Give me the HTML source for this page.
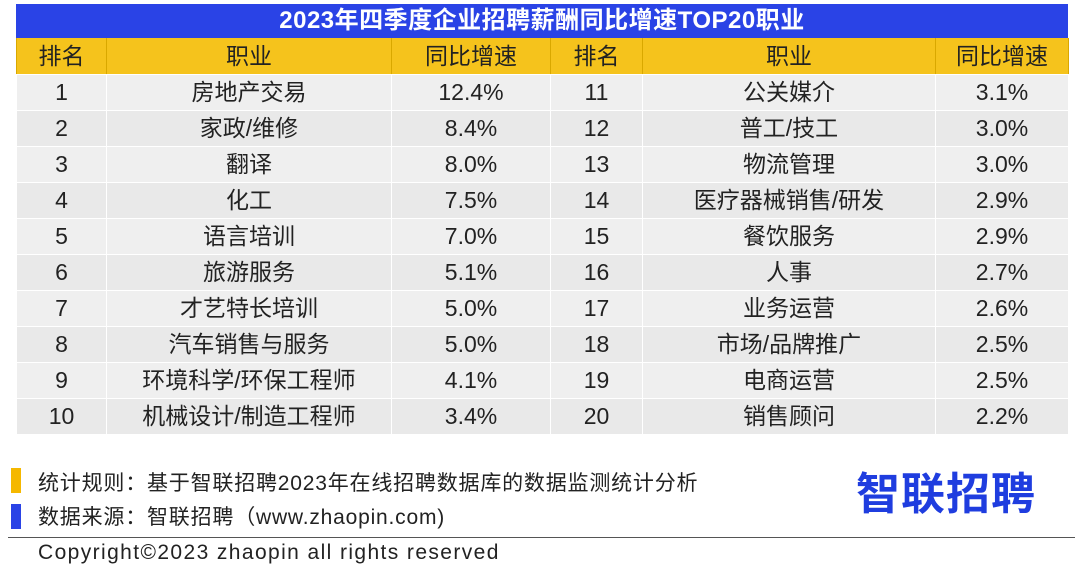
<!DOCTYPE html>
<html><head><meta charset="utf-8">
<style>
body{margin:0;width:1080px;height:579px;background:#fff;position:relative;overflow:hidden;font-family:"Liberation Sans","Noto Sans CJK SC",sans-serif;color:#222}
#title{position:absolute;left:16px;top:4px;width:1052px;height:34px;background:#2a43e6;color:#fff;font-weight:bold;font-size:24px;line-height:34px;text-align:center;letter-spacing:0.5px}
table{position:absolute;left:16px;top:38px;width:1052px;border-collapse:collapse;table-layout:fixed}
td,th{text-align:center;font-size:23px;font-weight:normal;padding:0;height:35px;line-height:35px;border:1px solid #fff;border-top:0;border-bottom:1px solid #fff}
th{background:#f5c31c;height:36px;border-left:1px solid #d9a800;border-right:1px solid #d9a800}
tr.r td{background:#efefef}
tr.r:nth-child(even) td{background:#e9e9e9}
.sq{position:absolute;width:10px;height:25px;left:11px}
.ft{position:absolute;left:38px;font-size:21px;line-height:26px;white-space:nowrap}
</style></head><body>
<div id="title">2023年四季度企业招聘薪酬同比增速TOP20职业</div>
<table>
<colgroup><col style="width:90px"><col style="width:285px"><col style="width:159px"><col style="width:92px"><col style="width:293px"><col style="width:133px"></colgroup>
<thead><tr><th>排名</th><th>职业</th><th>同比增速</th><th>排名</th><th>职业</th><th>同比增速</th></tr></thead>
<tbody id="tb"></tbody>
</table>
<div class="sq" style="top:468px;background:#f5b800"></div>
<div class="ft" style="top:471px;letter-spacing:0.8px">统计规则：基于智联招聘2023年在线招聘数据库的数据监测统计分析</div>
<div class="sq" style="top:504px;background:#2a43e6"></div>
<div class="ft" style="top:505px;letter-spacing:0.8px">数据来源：智联招聘（www.zhaopin.com)</div>
<div style="position:absolute;left:8px;top:537px;width:1067px;height:1px;background:#555"></div>
<div class="ft" style="top:540px;left:38px;letter-spacing:1.4px">Copyright©2023 zhaopin all rights reserved</div>
<div style="position:absolute;left:856px;top:462px;font-size:44px;font-weight:bold;color:#1f3ddf;line-height:56px;letter-spacing:1px;font-family:'Noto Sans CJK SC',sans-serif">智联招聘</div>
<script>
const ranks1=[1,2,3,4,5,6,7,8,9,10];
const jobs1=["房地产交易","家政/维修","翻译","化工","语言培训","旅游服务","才艺特长培训","汽车销售与服务","环境科学/环保工程师","机械设计/制造工程师"];
const rates1=[12.4,8.4,8.0,7.5,7.0,5.1,5.0,5.0,4.1,3.4];
const ranks2=[11,12,13,14,15,16,17,18,19,20];
const jobs2=["公关媒介","普工/技工","物流管理","医疗器械销售/研发","餐饮服务","人事","业务运营","市场/品牌推广","电商运营","销售顾问"];
const rates2=[3.1,3.0,3.0,2.9,2.9,2.7,2.6,2.5,2.5,2.2];
const tb=document.getElementById('tb');
for(let i=0;i<ranks1.length;i++){
  const tr=document.createElement('tr');tr.className='r';
  
  
  [ranks1[i],jobs1[i],rates1[i].toFixed(1)+'%',ranks2[i],jobs2[i],rates2[i].toFixed(1)+'%'].forEach(v=>{
    const td=document.createElement('td');td.textContent=v;
    
    
    tr.appendChild(td);
  });
  tb.appendChild(tr);
}
</script>
</body></html>
